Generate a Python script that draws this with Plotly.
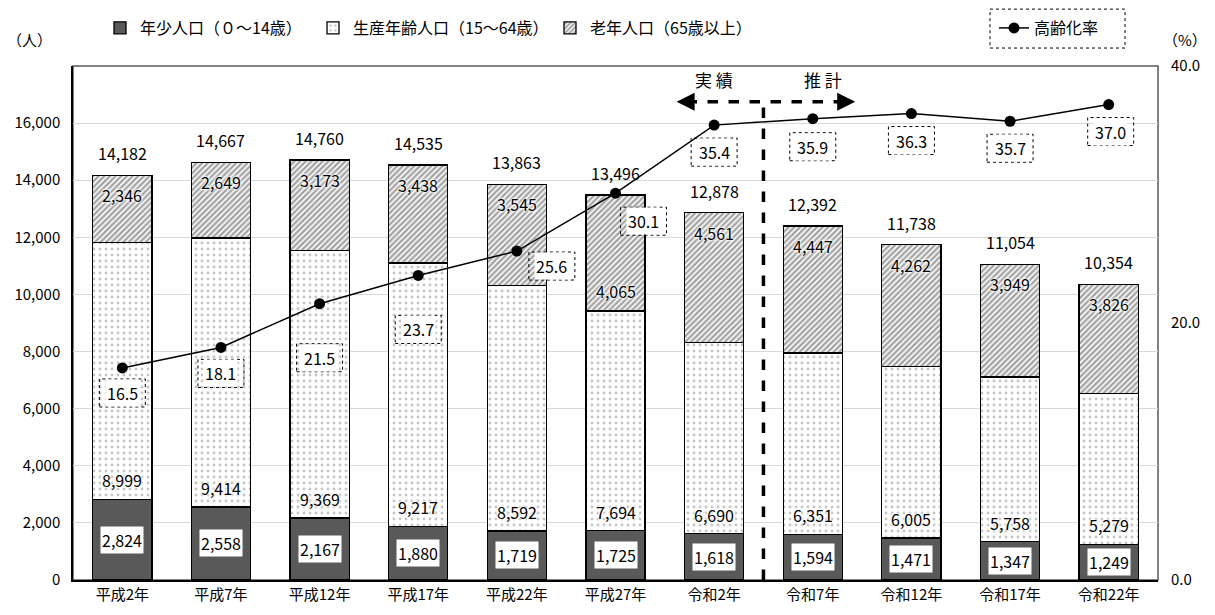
import plotly.graph_objects as go

# ---- data ----
years = ["平成2年", "平成7年", "平成12年", "平成17年", "平成22年", "平成27年",
         "令和2年", "令和7年", "令和12年", "令和17年", "令和22年"]
young = [2824, 2558, 2167, 1880, 1719, 1725, 1618, 1594, 1471, 1347, 1249]
working = [8999, 9414, 9369, 9217, 8592, 7694, 6690, 6351, 6005, 5758, 5279]
elderly = [2346, 2649, 3173, 3438, 3545, 4065, 4561, 4447, 4262, 3949, 3826]
total = [14182, 14667, 14760, 14535, 13863, 13496, 12878, 12392, 11738, 11054, 10354]
aging_rate = [16.5, 18.1, 21.5, 23.7, 25.6, 30.1, 35.4, 35.9, 36.3, 35.7, 37.0]
y_left_ticks = list(range(0, 16001, 2000))
y_right_ticks = [0, 20, 40]

# ---- styling ----
FONT = "Noto Sans CJK JP"
LABEL_SIZE = 16
x = list(range(len(years)))
# pixel offsets of the aging-rate labels relative to their markers
rate_label_offsets = [(0, -25), (0, -26), (0, -54), (0, -54), (35, -15), (28, -28),
                      (0, -27), (0, -28), (0, -27), (0, -27), (2, -27)]
halo = "0 0 2px #fff, 0 0 2px #fff, 0 0 3px #fff, 0 0 4px #fff"

fig = go.Figure()

bar_line = dict(color="black", width=1.3)
fig.add_trace(go.Bar(
    x=x, y=young, name="年少人口（０～14歳）", width=0.6,
    marker=dict(color="#595959", line=bar_line), legend="legend"))
fig.add_trace(go.Bar(
    x=x, y=working, name="生産年齢人口（15～64歳）", width=0.6,
    marker=dict(color="white", line=bar_line,
                pattern=dict(shape=".", fgcolor="#8c8c8c", bgcolor="white",
                             size=6, solidity=0.18)),
    legend="legend3"))
fig.add_trace(go.Bar(
    x=x, y=elderly, name="老年人口（65歳以上）", width=0.6,
    marker=dict(color="white", line=bar_line,
                pattern=dict(shape="/", fgcolor="#474747", bgcolor="white",
                             size=4, solidity=0.6)),
    legend="legend4"))
fig.add_trace(go.Scatter(
    x=x, y=aging_rate, name="高齢化率", yaxis="y2", mode="lines+markers",
    line=dict(color="black", width=1.5),
    marker=dict(color="black", size=11), legend="legend2"))

ann = []
shapes = []
for i in x:
    stack_top = young[i] + working[i] + elderly[i]
    # total above bar
    ann.append(dict(x=i, y=stack_top, yshift=22, text=f"{total[i]:,}",
                    showarrow=False, font=dict(size=LABEL_SIZE, color="black")))
    # young segment, centered
    ann.append(dict(x=i, y=young[i] / 2, text=f"{young[i]:,}", showarrow=False,
                    bgcolor="white", borderpad=1,
                    font=dict(size=LABEL_SIZE, color="black", shadow=halo)))
    # working segment, just above its base
    ann.append(dict(x=i, y=young[i], yshift=19, text=f"{working[i]:,}",
                    showarrow=False,
                    font=dict(size=LABEL_SIZE, color="black", shadow=halo)))
    # elderly segment, near its top (near its base where the rate label sits above)
    if i == 5:
        ey, eshift = young[i] + working[i], 20
    else:
        ey, eshift = stack_top, -20
    ann.append(dict(x=i, y=ey, yshift=eshift, text=f"{elderly[i]:,}",
                    showarrow=False,
                    font=dict(size=LABEL_SIZE, color="black", shadow=halo)))
    # aging rate label in a dashed box
    dx, dy = rate_label_offsets[i]
    ann.append(dict(x=i, y=aging_rate[i], yref="y2", xshift=dx, yshift=dy,
                    text=f"{aging_rate[i]:.1f}", showarrow=False, bgcolor="white",
                    font=dict(size=LABEL_SIZE, color="black")))
    shapes.append(dict(type="rect", xref="x", yref="y2", xsizemode="pixel",
                       ysizemode="pixel", xanchor=i, yanchor=aging_rate[i],
                       x0=dx - 23, x1=dx + 23, y0=dy - 14, y1=dy + 14,
                       line=dict(color="black", width=1, dash="dot"),
                       fillcolor="rgba(0,0,0,0)"))

# 実績 / 推計 divider and arrow
ARROW_Y = 16750
shapes.append(dict(type="line", xref="x", yref="y", x0=6.5, x1=6.5, y0=0, y1=ARROW_Y,
                   line=dict(color="black", width=3.5, dash="dash")))
shapes.append(dict(type="line", xref="x", yref="y", x0=5.72, x1=7.33, y0=ARROW_Y,
                   y1=ARROW_Y, line=dict(color="black", width=3.5, dash="dash")))
for tip, tail in [(5.62, 5.75), (7.43, 7.3)]:
    ann.append(dict(x=tip, y=ARROW_Y, ax=tail, ay=ARROW_Y, axref="x", ayref="y",
                    xref="x", yref="y", text="", showarrow=True, arrowhead=2,
                    arrowsize=1.2, arrowwidth=3, arrowcolor="black"))
ann.append(dict(x=6.0, y=ARROW_Y, yshift=22, text="実 績", showarrow=False,
                font=dict(size=17, color="black")))
ann.append(dict(x=7.1, y=ARROW_Y, yshift=22, text="推 計", showarrow=False,
                font=dict(size=17, color="black")))

# unit labels
ann.append(dict(xref="paper", yref="paper", x=-0.040, y=(580 - 38) / 515,
                xanchor="center", yanchor="middle", text="（人）",
                showarrow=False, font=dict(size=15, color="black")))
ann.append(dict(xref="paper", yref="paper", x=(1185 - 73) / 1085, y=(580 - 38) / 515,
                xanchor="center", yanchor="middle", text="（%）",
                showarrow=False, font=dict(size=15, color="black")))

# plot frame
shapes.append(dict(type="rect", xref="paper", yref="paper", x0=0, x1=1, y0=0, y1=1,
                   line=dict(color="#595959", width=1.5), layer="below"))
# dashed frame around the aging-rate legend entry
shapes.append(dict(type="rect", xref="paper", yref="paper",
                   x0=(990 - 73) / 1085, x1=(1125 - 73) / 1085,
                   y0=(580 - 47) / 515, y1=(580 - 8) / 515,
                   line=dict(color="black", width=1, dash="dot")))

legend_common = dict(orientation="h", yanchor="middle", xanchor="left",
                     font=dict(size=16, color="black", family=FONT),
                     bgcolor="rgba(0,0,0,0)", itemwidth=30)
legend_y = (580 - 28) / 515

fig.update_layout(
    width=1215, height=615,
    margin=dict(l=73, r=57, t=65, b=35),
    paper_bgcolor="white", plot_bgcolor="white",
    barmode="stack",
    font=dict(family=FONT, size=15, color="black"),
    showlegend=True,
    legend=dict(x=(100 - 73) / 1085, y=legend_y, **legend_common),
    legend3=dict(x=(313 - 73) / 1085, y=legend_y, **legend_common),
    legend4=dict(x=(550 - 73) / 1085, y=legend_y, **legend_common),
    legend2=dict(x=(994 - 73) / 1085, y=legend_y, **legend_common),
    xaxis=dict(range=[-0.5, 10.5], tickvals=x, ticktext=years, showgrid=False,
               showline=True, linecolor="black", linewidth=1.5, ticks="",
               tickfont=dict(size=15), zeroline=False, fixedrange=True),
    yaxis=dict(range=[0, 18000], tickvals=y_left_ticks, tickformat=",",
               showgrid=True, gridcolor="#d9d9d9", gridwidth=1,
               showline=True, linecolor="black", linewidth=1.5, zeroline=False,
               ticks="", ticklabelstandoff=8, tickfont=dict(size=15)),
    yaxis2=dict(range=[0, 40], tickvals=y_right_ticks, tickformat=".1f",
                overlaying="y", side="right", showgrid=False, zeroline=False,
                showline=False, ticks="", ticklabelstandoff=12,
                tickfont=dict(size=15)),
    annotations=ann,
    shapes=shapes,
)

fig.write_html("out.html")
